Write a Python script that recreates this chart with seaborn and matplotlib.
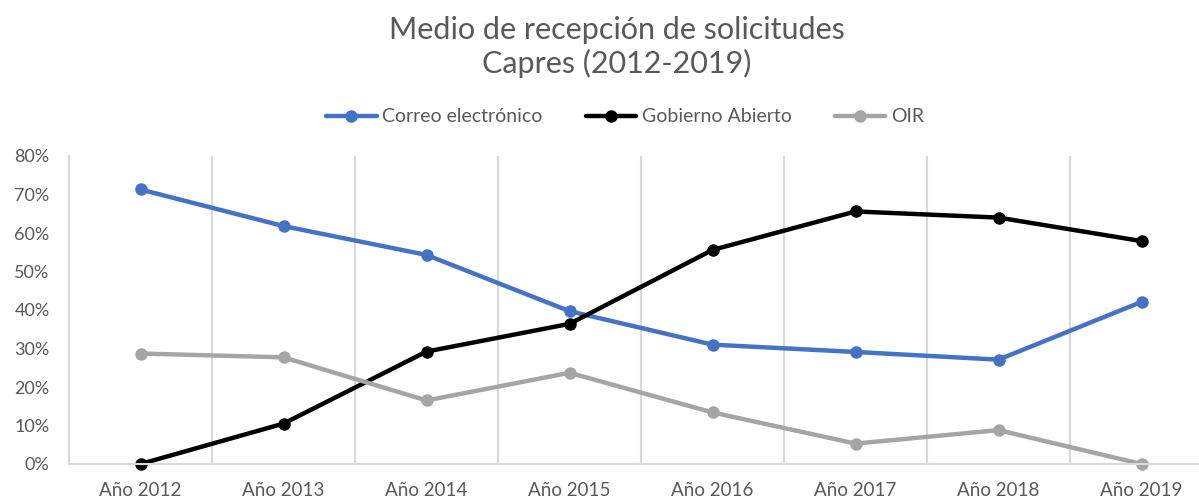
"""
Medio de recepción de solicitudes - Capres (2012-2019)
"""
import matplotlib
matplotlib.use("Agg")
import matplotlib.pyplot as plt
from matplotlib.ticker import FixedLocator, PercentFormatter
import seaborn as sns
import pandas as pd

# datos (porcentaje)
years = ["Año 2012", "Año 2013", "Año 2014", "Año 2015",
         "Año 2016", "Año 2017", "Año 2018", "Año 2019"]
correo = [71.3, 61.8, 54.3, 39.7, 31.0, 29.1, 27.1, 42.1]
gobierno = [0.0, 10.5, 29.2, 36.4, 55.6, 65.6, 64.0, 57.9]
oir = [28.7, 27.7, 16.5, 23.7, 13.4, 5.3, 8.8, 0.0]
series_names = ["Correo electrónico", "Gobierno Abierto", "OIR"]
colors = ["#4472C4", "#000000", "#A5A5A5"]

TEXT_COLOR = "#595959"
GRID_COLOR = "#D9D9D9"

sns.set_style("white")
plt.rcParams['font.family'] = ['Lato', 'DejaVu Sans']

df = pd.DataFrame({
    "idx": list(range(len(years))) * 3,
    "valor": correo + gobierno + oir,
    "serie": [s for s in series_names for _ in years],
})

fig = plt.figure(figsize=(11.99, 4.99), dpi=100)
ax = fig.add_axes([69 / 1199, 35 / 499, 1144 / 1199, 308 / 499])

sns.lineplot(
    data=df, x="idx", y="valor", hue="serie", hue_order=series_names,
    palette=colors, marker="o", markersize=9, markeredgewidth=0,
    linewidth=3.2, dashes=False, ax=ax
)
for line in ax.get_lines():
    line.set_clip_on(False)

ax.set_xlim(-0.5, len(years) - 0.5)
ax.set_ylim(0, 80)
ax.set_xticks(range(len(years)))
ax.set_xticklabels(years)
ax.xaxis.set_minor_locator(FixedLocator([i + 0.5 for i in range(len(years) - 1)]))
ax.grid(which="minor", axis="x", color=GRID_COLOR, linewidth=1.5)
ax.grid(which="major", axis="both", visible=False)
ax.set_yticks(range(0, 81, 10))
ax.yaxis.set_major_formatter(PercentFormatter(decimals=0))
ax.tick_params(axis="x", which="both", length=0, pad=13, labelsize=13.5, labelcolor=TEXT_COLOR)
ax.tick_params(axis="y", length=0, pad=14, labelsize=13, labelcolor=TEXT_COLOR)
ax.set_xlabel("")
ax.set_ylabel("")

for side in ["top", "right"]:
    ax.spines[side].set_visible(False)
for side in ["left", "bottom"]:
    ax.spines[side].set_color(GRID_COLOR)
    ax.spines[side].set_linewidth(1.5)

ax.legend(
    loc="center", bbox_to_anchor=(625 / 1199, 1 - 117 / 499),
    bbox_transform=fig.transFigure, ncol=3, frameon=False,
    fontsize=14, handlelength=2.6, columnspacing=2.2, handletextpad=0.3,
    labelcolor=TEXT_COLOR
)

fig.text(617 / 1199, 1 - 47 / 499, "Medio de recepción de solicitudes\nCapres (2012-2019)",
         ha="center", va="center", fontsize=22, color=TEXT_COLOR, linespacing=1.2)

fig.savefig("out.png", dpi=100)
